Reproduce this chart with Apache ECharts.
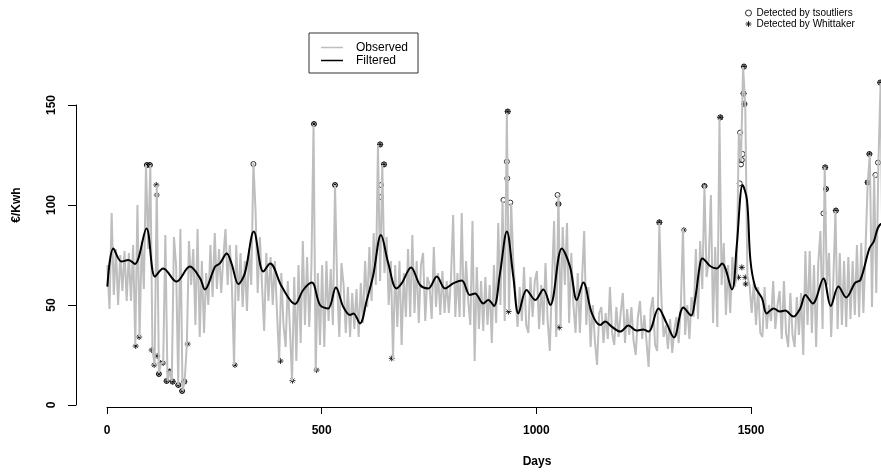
<!DOCTYPE html>
<html>
<head>
<meta charset="utf-8">
<title>Observed vs Filtered</title>
<script src="https://cdn.jsdelivr.net/npm/echarts@6/dist/echarts.min.js"></script>
<style>
  html, body { margin: 0; padding: 0; background: #fff; }
  #chart { width: 881px; height: 472px; }
</style>
</head>
<body>
<div id="chart"></div>
<script>
// observed price, one value every 5 days starting at day 1
const obsStep = 5
const observed = [
  70, 48, 96, 55, 78, 50, 75, 57, 77, 52,
  76, 52, 80, 30, 100, 34, 82, 58, 120, 78,
  120, 28, 20, 110, 16, 21, 21, 85, 12, 17,
  12, 84, 70, 10, 88, 7, 12, 30, 82, 60,
  78, 40, 88, 34, 72, 36, 66, 50, 80, 54,
  86, 58, 78, 56, 74, 88, 60, 80, 59, 20,
  80, 52, 76, 49, 72, 47, 78, 60, 121, 97,
  56, 84, 60, 37, 76, 52, 74, 50, 72, 46,
  22, 66, 40, 29, 62, 38, 12, 64, 22, 70,
  31, 82, 40, 74, 39, 69, 140, 17, 66, 30,
  70, 29, 72, 42, 68, 40, 110, 60, 34, 71,
  60, 36, 59, 34, 56, 38, 58, 34, 61, 41,
  72, 49, 79, 52, 86, 60, 130, 62, 120, 66,
  84, 50, 72, 23, 70, 39, 72, 30, 66, 44,
  78, 44, 85, 46, 72, 41, 70, 76, 42, 64,
  60, 43, 79, 49, 66, 45, 67, 46, 62, 46,
  64, 95, 44, 66, 44, 96, 44, 72, 52, 40,
  92, 22, 69, 38, 62, 37, 64, 40, 60, 31,
  70, 41, 91, 50, 102, 42, 146, 47, 101, 72,
  55, 39, 59, 42, 69, 40, 36, 64, 44, 62,
  67, 38, 60, 40, 71, 42, 27, 62, 92, 34,
  105, 39, 89, 60, 91, 41, 76, 50, 36, 66,
  36, 62, 87, 40, 59, 29, 50, 32, 20, 46,
  49, 31, 46, 33, 59, 36, 30, 49, 34, 46,
  56, 31, 48, 35, 49, 32, 25, 44, 52, 33,
  45, 32, 19, 48, 54, 30, 27, 91, 52, 34,
  40, 28, 43, 26, 38, 44, 31, 49, 88, 35,
  50, 33, 54, 44, 78, 43, 82, 58, 110, 64,
  72, 105, 41, 79, 39, 143, 60, 81, 45, 70,
  46, 74, 59, 64, 136, 122, 169, 150, 64, 60,
  46, 62, 40, 59, 36, 34, 59, 38, 50, 42,
  62, 38, 50, 57, 33, 62, 36, 29, 56, 35,
  29, 54, 35, 56, 25, 77, 40, 77, 36, 70,
  29, 71, 87, 38, 119, 60, 76, 34, 62, 97,
  38, 76, 40, 72, 39, 74, 43, 72, 45, 80,
  44, 81, 46, 78, 111, 125, 49, 115, 56, 121,
  161, 60, 90, 62, 95, 58
]

// filtered (smooth) curve, [day, value]
const filtered = [
  [1, 59.2], [15, 78.3], [34, 71.7], [50, 72.5], [65, 70.5], [92, 88.3], [112, 64.2],
  [131, 68.3], [162, 61.7], [193, 69.2], [217, 63.3], [228, 57.8], [252, 69.2],
  [263, 70.8], [279, 75.8], [290, 70.8], [306, 60.5], [321, 65.8], [342, 86.7],
  [364, 66.7], [380, 70.8], [407, 59.2], [438, 50.5], [457, 57.5], [477, 61.2],
  [496, 50], [515, 48.3], [533, 58.8], [550, 49.2], [566, 45], [574, 45.8],
  [589, 40.8], [605, 52.5], [620, 65], [638, 85], [655, 70.8], [674, 58.3],
  [686, 60.8], [708, 68.8], [729, 60], [748, 58.3], [768, 64.2], [787, 58.3],
  [806, 60.8], [826, 62.2], [845, 55], [857, 55.8], [876, 50.8], [888, 52.5],
  [901, 49.5], [915, 65.8], [931, 86.7], [946, 64.2], [958, 45.8], [977, 57.5],
  [997, 52.5], [1016, 57.8], [1032, 50], [1059, 78.3], [1078, 69.2], [1094, 52.5],
  [1109, 61.2], [1129, 45.8], [1148, 40], [1160, 41.7], [1175, 39.2], [1195, 36.7],
  [1214, 39.7], [1233, 37.2], [1249, 37.8], [1261, 36.7], [1284, 48.3], [1303, 40.8],
  [1320, 33.8], [1342, 48.8], [1360, 44.7], [1369, 52.5], [1381, 70.8], [1386, 73.3],
  [1404, 69.5], [1420, 68.3], [1432, 70.8], [1455, 57.8], [1466, 79.2], [1480, 110],
  [1490, 102.5], [1498, 72.5], [1509, 59.2], [1525, 53.3], [1536, 45.8], [1552, 48.3],
  [1567, 46.7], [1579, 47.2], [1598, 44.2], [1614, 48.3], [1626, 55], [1643, 50.8],
  [1668, 63.3], [1685, 49.5], [1703, 59.2], [1721, 53.8], [1742, 61.2], [1754, 62.5],
  [1775, 78.3], [1785, 81.7], [1799, 90], [1826, 92]
]

// outliers found by tsoutliers, [day, value]
const tsoutliers = [
  [93, 120], [100, 120], [121, 15.5], [139, 12], [146, 16.7], [153, 11.7], [166, 10],
  [175, 7], [180, 11.7], [341, 120.5], [482, 140.5], [531, 110], [636, 130.3],
  [638, 110], [638, 104], [645, 120.3], [923, 102.5], [931, 121.7], [932, 113.3],
  [933, 146.7], [939, 101.2], [1049, 105], [1051, 100.5], [1286, 91.3], [1391, 109.5],
  [1428, 143.8], [1473, 110.8], [1474, 136.2], [1476, 120.3], [1478, 122.5],
  [1480, 125.5], [1482, 155.8], [1483, 169.2], [1484, 150.5], [1668, 95.8],
  [1672, 118.8], [1674, 108], [1697, 97.2], [1771, 111.3], [1775, 125.5],
  [1789, 115], [1795, 121.2], [1800, 161.2]
]

// outliers found by Whittaker, [day, value]
const whittaker = [
  [67, 29.5], [75, 34], [93, 120], [100, 120], [104, 27.5], [110, 20], [115, 110],
  [116, 105], [117, 24.5], [121, 15.5], [125, 21], [131, 21], [139, 12], [146, 16.7],
  [153, 11.7], [166, 10], [175, 7], [180, 11.7], [188, 30.5], [298, 20], [404, 22],
  [432, 12.2], [482, 140.5], [488, 17.5], [531, 110], [636, 130.3], [645, 120.3],
  [663, 23.3], [933, 146.7], [935, 46.7], [1051, 100.5], [1053, 38.8], [1286, 91.3],
  [1343, 87.5], [1391, 109.5], [1428, 143.8], [1470, 63.8], [1478, 68.8],
  [1482, 155.8], [1483, 169.2], [1484, 150.5], [1486, 63.8], [1487, 60.5],
  [1672, 118.8], [1674, 108], [1697, 97.2], [1771, 111.3], [1775, 125.5], [1800, 161.2]
]

const xTicks = [0, 1500, 500]   // min, max, interval of the drawn x axis
const yTicks = [0, 150, 50]     // min, max, interval of the drawn y axis

const font = "'Liberation Sans', Arial, Helvetica, sans-serif"
const asterisk = 'path://M5 0L5 10M0 5L10 5M1.5 1.5L8.5 8.5M1.5 8.5L8.5 1.5'
const openStyle = { color: 'rgba(255,255,255,0)', borderColor: '#000', borderWidth: 1 }

const chart = echarts.init(document.getElementById('chart'), null, { renderer: 'canvas' })

const hidden = { show: false }

const option = {
  backgroundColor: '#fff',
  animation: false,
  textStyle: { fontFamily: font },
  grid: [
    // data area (axes hidden, R keeps 4% padding around the data)
    { left: 76, right: 0, top: 54, bottom: 65 },
    // y axis drawn only over 0..150
    { left: 76, top: 105, width: 10, height: 300 },
    // x axis drawn only over 0..1500
    { left: 107, width: 644, top: 380, height: 27 }
  ],
  xAxis: [
    { gridIndex: 0, type: 'value', min: -72, max: 1802, show: false },
    { gridIndex: 1, type: 'value', show: false },
    {
      gridIndex: 2, type: 'value', min: xTicks[0], max: xTicks[1], interval: xTicks[2],
      position: 'bottom',
      axisLine: { show: true, lineStyle: { color: '#000', width: 1 } },
      axisTick: { show: true, length: 7, lineStyle: { color: '#000' } },
      axisLabel: {
        margin: 18, color: '#000', fontSize: 12, fontWeight: 'bold', fontFamily: font,
        formatter: v => String(v)
      },
      splitLine: hidden
    }
  ],
  yAxis: [
    { gridIndex: 0, type: 'value', min: -1, max: 175.5, show: false },
    {
      gridIndex: 1, type: 'value', min: yTicks[0], max: yTicks[1], interval: yTicks[2],
      axisLine: { show: true, lineStyle: { color: '#000', width: 1 } },
      axisTick: { show: true, length: 8, lineStyle: { color: '#000' } },
      axisLabel: { rotate: 90, margin: 18, color: '#000', fontSize: 12, fontWeight: 'bold', fontFamily: font },
      splitLine: hidden
    },
    { gridIndex: 2, type: 'value', show: false }
  ],
  graphic: [
    {
      type: 'text', x: 537, y: 462,
      style: {
        text: 'Days', fill: '#000', font: 'bold 12px ' + font,
        textAlign: 'center', textVerticalAlign: 'middle'
      }
    },
    {
      type: 'text', x: 17, y: 205, rotation: Math.PI / 2,
      style: {
        text: '€/Kwh', fill: '#000', font: 'bold 12px ' + font,
        textAlign: 'center', textVerticalAlign: 'middle'
      }
    }
  ],
  legend: [
    {
      data: [
        { name: 'Observed', icon: 'rect', itemStyle: { color: '#bebebe' } },
        { name: 'Filtered', icon: 'rect', itemStyle: { color: '#000' } }
      ],
      orient: 'vertical', left: 309, top: 33,
      padding: [8, 10, 6, 12],
      itemWidth: 22, itemHeight: 1.5, itemGap: 0,
      borderColor: '#333', borderWidth: 1, backgroundColor: '#fff',
      selectedMode: false,
      textStyle: { fontSize: 12, lineHeight: 13, color: '#000', fontFamily: font, padding: [0, 0, 0, 8] }
    },
    {
      data: [
        { name: 'Detected by tsoutliers', icon: 'circle', itemStyle: openStyle },
        { name: 'Detected by Whittaker', icon: asterisk, itemStyle: openStyle }
      ],
      orient: 'vertical', left: 745, top: 8, padding: 0,
      itemWidth: 6, itemHeight: 6, itemGap: 1,
      selectedMode: false,
      textStyle: { fontSize: 10, lineHeight: 10, color: '#000', fontFamily: font }
    }
  ],
  series: [
    {
      name: 'Observed', type: 'line', xAxisIndex: 0, yAxisIndex: 0,
      data: observed.map((v, i) => [1 + i * obsStep, v]),
      symbol: 'none', clip: true,
      lineStyle: { color: '#bebebe', width: 2 },
      itemStyle: { color: '#bebebe' }
    },
    {
      name: 'Filtered', type: 'line', xAxisIndex: 0, yAxisIndex: 0,
      data: filtered, smooth: 0.35, symbol: 'none', clip: true,
      lineStyle: { color: '#000', width: 2 },
      itemStyle: { color: '#000' }
    },
    {
      name: 'Detected by tsoutliers', type: 'scatter', xAxisIndex: 0, yAxisIndex: 0,
      data: tsoutliers, symbol: 'circle', symbolSize: 5, clip: true,
      itemStyle: openStyle
    },
    {
      name: 'Detected by Whittaker', type: 'scatter', xAxisIndex: 0, yAxisIndex: 0,
      data: whittaker, symbol: asterisk, symbolSize: 6, clip: true,
      itemStyle: openStyle
    }
  ]
}

chart.setOption(option)
</script>
</body>
</html>
